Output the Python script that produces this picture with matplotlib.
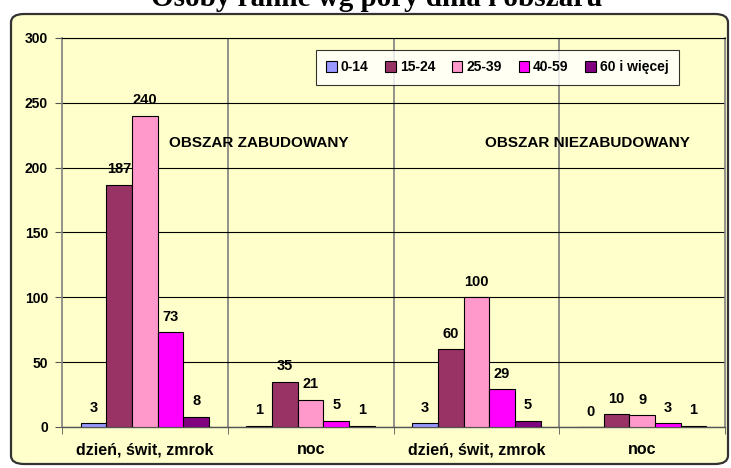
import matplotlib
matplotlib.use('Agg')
import matplotlib.pyplot as plt
from matplotlib.patches import FancyBboxPatch
import numpy as np

plt.rcParams['font.family'] = ['Liberation Sans', 'DejaVu Sans']

# dane
categories = ['dzień, świt, zmrok', 'noc', 'dzień, świt, zmrok', 'noc']
age_groups = ['0-14', '15-24', '25-39', '40-59', '60 i więcej']
v_0_14 = [3, 1, 3, 0]
v_15_24 = [187, 35, 60, 10]
v_25_39 = [240, 21, 100, 9]
v_40_59 = [73, 5, 29, 3]
v_60 = [8, 1, 5, 1]
series = [v_0_14, v_15_24, v_25_39, v_40_59, v_60]
colors = ['#9999FF', '#993366', '#FF99CC', '#FF00FF', '#800080']
area_labels = ['OBSZAR ZABUDOWANY', 'OBSZAR NIEZABUDOWANY']
title = 'Osoby ranne wg pory dnia i obszaru'

W, H = 731, 468
fig = plt.figure(figsize=(W / 100, H / 100), dpi=100)

# tło wykresu (żółta ramka z zaokrąglonymi rogami)
bg = FancyBboxPatch((11 / W, 4 / H), 717 / W, 450 / H,
                    boxstyle='round,pad=0,rounding_size=0.018',
                    transform=fig.transFigure, facecolor='#FFFFCC',
                    edgecolor='#333333', linewidth=1.6, zorder=-10)
fig.patches.append(bg)

# tytuł (częściowo ucięty u góry, jak w oryginale)
fig.text(0.515, 1 - 6 / H, title, ha='center', va='baseline',
         fontsize=21, fontweight='bold', family='Liberation Serif')

ax = fig.add_axes([62 / W, 41 / H, 663 / W, 389 / H])
ax.set_zorder(1)
ax.set_facecolor('none')

x = np.arange(len(categories))
w = 0.155
for i, (vals, col, lab) in enumerate(zip(series, colors, age_groups)):
    pos = x + (i - 2) * w
    bars = ax.bar(pos, vals, w, color=col, edgecolor='black', linewidth=0.8,
                  label=lab, zorder=3)
    for b, v in zip(bars, vals):
        ax.annotate(str(v), (b.get_x() + b.get_width() / 2, v),
                    xytext=(0, 6), textcoords='offset points',
                    ha='center', va='bottom', fontsize=10.5, fontweight='bold')

ax.set_xlim(-0.5, 3.5)
ax.set_ylim(0, 300)
ax.set_yticks(range(0, 301, 50))
ax.tick_params(axis='y', labelsize=10, length=5, color='#555555', pad=5)
for t in ax.get_yticklabels():
    t.set_fontweight('bold')
ax.set_xticks(x)
ax.set_xticklabels(categories, fontsize=11.5, fontweight='bold')
ax.tick_params(axis='x', length=0, pad=11)
ax.set_xticks(np.arange(-0.5, 3.6, 1), minor=True)
ax.tick_params(axis='x', which='minor', length=5, color='#555555')

ax.yaxis.grid(True, color='black', linewidth=0.8, zorder=1)
for xv in [0.5, 1.5, 2.5]:
    ax.axvline(xv, color='#808080', linewidth=1.2, zorder=1)

ax.spines['top'].set_color('black')
ax.spines['top'].set_linewidth(0.8)
ax.spines['right'].set_color('#808080')
ax.spines['right'].set_linewidth(1.2)
ax.spines['left'].set_color('#808080')
ax.spines['left'].set_linewidth(1.2)
ax.spines['bottom'].set_color('#555555')
ax.spines['bottom'].set_linewidth(1.0)

ax.text(0.69, 219, area_labels[0], ha='center', va='center',
        fontsize=11, fontweight='bold', zorder=4)
ax.text(2.67, 219, area_labels[1], ha='center', va='center',
        fontsize=11, fontweight='bold', zorder=4)

leg = ax.legend(loc='upper left', bbox_to_anchor=(247 / 663, 384 / 389),
                ncol=5, frameon=True, fancybox=False,
                handlelength=0.75, handleheight=0.75, handletextpad=0.3,
                columnspacing=1.2, borderpad=0.75, prop={'weight': 'bold', 'size': 10})
leg.get_frame().set_edgecolor('black')
leg.get_frame().set_linewidth(0.8)
leg.get_frame().set_facecolor('white')
leg.set_zorder(5)

fig.savefig('out.png', dpi=100)
